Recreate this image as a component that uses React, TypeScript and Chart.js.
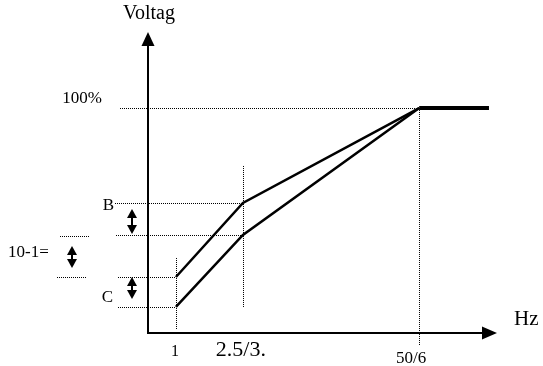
import React, { useEffect, useRef } from "react";
import { Chart, registerables } from "chart.js";

Chart.register(...registerables);

// Frequency break points (schematic positions on the Hz axis) and their labels
const hzLabels = ["1", "2.5/3.", "50/6"];
const hzPositions = [0.8, 2.72, 7.77];
const hzEnd = 9.77;

// Voltage (% of rated) at each break point
const upperCurve = [24.9, 57.8, 100];
const lowerCurve = [11.6, 43.6, 100];
const ratedVoltage = 100;

const yMax = 133.8;
const xMax = 10;

const SERIF = '"Liberation Serif", "Times New Roman", serif';

function dottedH(ctx: CanvasRenderingContext2D, x1: number, x2: number, y: number) {
  const yy = Math.round(y) + 0.5;
  ctx.beginPath();
  ctx.moveTo(x1, yy);
  ctx.lineTo(x2, yy);
  ctx.stroke();
}
function dottedV(ctx: CanvasRenderingContext2D, x: number, y1: number, y2: number) {
  const xx = Math.round(x) + 0.5;
  ctx.beginPath();
  ctx.moveTo(xx, y1);
  ctx.lineTo(xx, y2);
  ctx.stroke();
}
function doubleArrow(ctx: CanvasRenderingContext2D, x: number, y1: number, y2: number) {
  const hw = 5;
  const hh = 9;
  ctx.beginPath();
  ctx.moveTo(x, y1 + hh - 1);
  ctx.lineTo(x, y2 - hh + 1);
  ctx.lineWidth = 2;
  ctx.stroke();
  ctx.beginPath();
  ctx.moveTo(x, y1);
  ctx.lineTo(x - hw, y1 + hh);
  ctx.lineTo(x + hw, y1 + hh);
  ctx.closePath();
  ctx.fill();
  ctx.beginPath();
  ctx.moveTo(x, y2);
  ctx.lineTo(x - hw, y2 - hh);
  ctx.lineTo(x + hw, y2 - hh);
  ctx.closePath();
  ctx.fill();
}

const diagramPlugin = {
  id: "vfDiagram",
  beforeDatasetsDraw(chart: any) {
    const ctx: CanvasRenderingContext2D = chart.ctx;
    const xs = chart.scales.x;
    const ys = chart.scales.y;
    const x0 = xs.getPixelForValue(0);
    const y0 = ys.getPixelForValue(0);
    const px = hzPositions.map((v) => xs.getPixelForValue(v));
    const pyU = upperCurve.map((v) => ys.getPixelForValue(v));
    const pyL = lowerCurve.map((v) => ys.getPixelForValue(v));
    const y100 = ys.getPixelForValue(ratedVoltage);

    ctx.save();
    ctx.strokeStyle = "#000";
    ctx.lineWidth = 1;
    ctx.setLineDash([1, 1]);
    // horizontal guides
    dottedH(ctx, x0 - 28, px[2], y100);
    dottedH(ctx, x0 - 33, px[1], pyU[1]);
    dottedH(ctx, x0 - 32, px[1], pyL[1]);
    dottedH(ctx, x0 - 30, px[0], pyU[0]);
    dottedH(ctx, x0 - 30, px[0], pyL[0]);
    // short guides near "10-1="
    dottedH(ctx, 60, 89, pyL[1] + 1);
    dottedH(ctx, 57, 87, pyU[0]);
    // vertical guides
    dottedV(ctx, px[0], pyU[0] - 19, y0 - 3);
    dottedV(ctx, px[1], pyU[1] - 37, pyL[0] + 1);
    dottedV(ctx, px[2], y100, y0 + 12);
    ctx.restore();
  },
  afterDatasetsDraw(chart: any) {
    const ctx: CanvasRenderingContext2D = chart.ctx;
    const xs = chart.scales.x;
    const ys = chart.scales.y;
    const x0 = xs.getPixelForValue(0);
    const y0 = ys.getPixelForValue(0);
    const xTip = xs.getPixelForValue(xMax);
    const yTip = ys.getPixelForValue(yMax);
    const px = hzPositions.map((v) => xs.getPixelForValue(v));
    const pyU = upperCurve.map((v) => ys.getPixelForValue(v));
    const pyL = lowerCurve.map((v) => ys.getPixelForValue(v));
    const y100 = ys.getPixelForValue(ratedVoltage);

    ctx.save();
    ctx.strokeStyle = "#000";
    ctx.fillStyle = "#000";
    ctx.setLineDash([]);
    // axes
    ctx.lineWidth = 2;
    ctx.beginPath();
    ctx.moveTo(x0, y0);
    ctx.lineTo(x0, yTip + 12);
    ctx.moveTo(x0 - 1, y0);
    ctx.lineTo(xTip - 14, y0);
    ctx.stroke();
    // arrow heads
    ctx.beginPath();
    ctx.moveTo(x0, yTip);
    ctx.lineTo(x0 - 6.5, yTip + 14);
    ctx.lineTo(x0 + 6.5, yTip + 14);
    ctx.closePath();
    ctx.fill();
    ctx.beginPath();
    ctx.moveTo(xTip, y0);
    ctx.lineTo(xTip - 15, y0 - 6.5);
    ctx.lineTo(xTip - 15, y0 + 6.5);
    ctx.closePath();
    ctx.fill();

    // double arrows
    doubleArrow(ctx, x0 - 16, pyU[1] + 6, pyL[1] - 1);
    doubleArrow(ctx, x0 - 16, pyU[0], pyL[0] - 8);
    doubleArrow(ctx, 72, 246, 268);

    // texts
    ctx.textBaseline = "alphabetic";
    ctx.textAlign = "center";
    ctx.font = `20px ${SERIF}`;
    ctx.fillText("Voltag", x0 + 1, yTip - 13);
    ctx.textAlign = "left";
    ctx.font = `21px ${SERIF}`;
    ctx.fillText("Hz", xTip + 17, y0 - 8);
    ctx.textAlign = "right";
    ctx.font = `17px ${SERIF}`;
    ctx.fillText("100%", x0 - 46, y100 - 5);
    ctx.fillText("B", x0 - 34, pyU[1] + 7);
    ctx.fillText("C", x0 - 35, pyL[0] - 5);
    ctx.textAlign = "left";
    ctx.fillText("10-1=", 8, 257);
    ctx.textAlign = "center";
    ctx.font = `16px ${SERIF}`;
    ctx.fillText(hzLabels[0], px[0] - 1, y0 + 23);
    ctx.font = `22px ${SERIF}`;
    ctx.fillText(hzLabels[1], px[1] - 2, y0 + 23);
    ctx.font = `17px ${SERIF}`;
    ctx.fillText(hzLabels[2], px[2] - 8, y0 + 30);
    ctx.restore();
  },
};

export default function App() {
  const canvasRef = useRef<HTMLCanvasElement | null>(null);

  useEffect(() => {
    if (!canvasRef.current) return;
    const toPts = (ys: number[]) => hzPositions.map((x, i) => ({ x, y: ys[i] }));
    const chart = new Chart(canvasRef.current, {
      type: "line",
      data: {
        datasets: [
          {
            label: "B boost",
            data: toPts(upperCurve),
            borderColor: "#000",
            borderWidth: 2.5,
            pointRadius: 0,
            fill: false,
            tension: 0,
          },
          {
            label: "C boost",
            data: toPts(lowerCurve),
            borderColor: "#000",
            borderWidth: 2.5,
            pointRadius: 0,
            fill: false,
            tension: 0,
          },
          {
            label: "rated",
            data: [
              { x: hzPositions[2], y: ratedVoltage },
              { x: hzEnd, y: ratedVoltage },
            ],
            borderColor: "#000",
            borderWidth: 4,
            borderCapStyle: "butt",
            pointRadius: 0,
            fill: false,
          },
        ],
      },
      options: {
        responsive: false,
        animation: false,
        events: [],
        layout: { padding: { left: 148, top: 32, right: 46, bottom: 33 } },
        plugins: { legend: { display: false }, tooltip: { enabled: false } },
        scales: {
          x: { type: "linear", min: 0, max: xMax, display: false },
          y: { type: "linear", min: 0, max: yMax, display: false },
        },
      },
      plugins: [diagramPlugin],
    } as any);
    return () => chart.destroy();
  }, []);

  return (
    <div style={{ position: "fixed", left: 0, top: 0, width: 543, height: 366, background: "#fff" }}>
      <canvas ref={canvasRef} width={543} height={366} />
    </div>
  );
}
